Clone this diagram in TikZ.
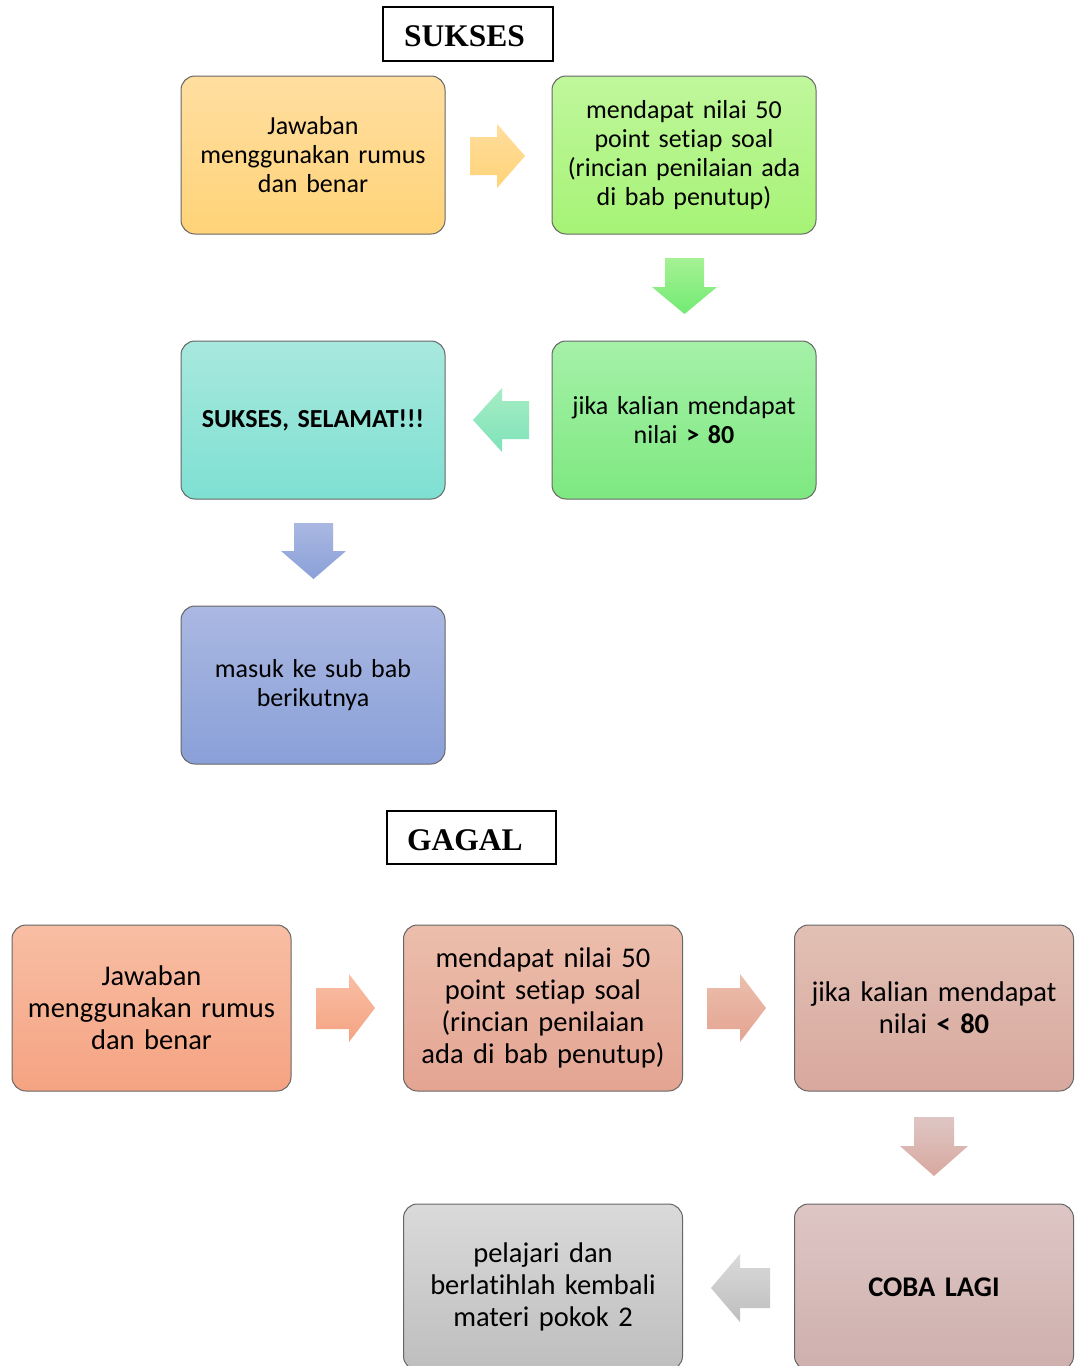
\documentclass[tikz,border=0pt]{standalone}
\usepackage{fontspec}
\setmainfont{Carlito}[Ligatures={NoCommon,NoContextual}]
\newfontfamily\titlefont{Liberation Serif}
\begin{document}
\begin{tikzpicture}[x=1pt,y=-1pt,
  flowbox/.style={rounded corners=14pt, draw=black!60, line width=1pt,
    minimum width=264pt, minimum height=158pt, inner sep=0pt, align=center,
    text width=255pt, font=\fontsize{26}{29}\selectfont},
  flowboxb/.style={flowbox, minimum width=279pt, minimum height=166pt,
    text width=272pt, font=\fontsize{28.5}{32}\selectfont},
  titlebox/.style={draw=black, line width=1.3pt, inner sep=0pt, fill=white},
  titletext/.style={font=\titlefont\bfseries\fontsize{31.5}{36}\selectfont, anchor=west, inner sep=0pt}
]
\clip (0,0) rectangle (1083,1366);
\fill[white] (0,0) rectangle (1083,1366);

% ---------- SUKSES ----------
\node[titlebox, minimum width=170pt, minimum height=54pt] (t1) at (468,34) {};
\node[titletext] (t1t) at (404,36) {SUKSES};

\definecolor{aT}{RGB}{255,222,160}\definecolor{aB}{RGB}{255,211,120}
\definecolor{bT}{RGB}{192,247,156}\definecolor{bB}{RGB}{166,243,118}
\definecolor{cT}{RGB}{165,241,168}\definecolor{cB}{RGB}{126,232,128}
\definecolor{dT}{RGB}{168,232,222}\definecolor{dB}{RGB}{126,224,210}
\definecolor{eT}{RGB}{170,184,226}\definecolor{eB}{RGB}{138,160,216}

\node[flowbox, top color=aT, bottom color=aB] (A) at (313,155) {Jawaban\\menggunakan rumus\\dan benar};
\node[flowbox, top color=bT, bottom color=bB] (B) at (684,155) {mendapat nilai 50\\point setiap soal\\(rincian penilaian ada\\di bab penutup)};
\node[flowbox, top color=cT, bottom color=cB] (C) at (684,420) {jika kalian mendapat\\nilai \textbf{> 80}};
\node[flowbox, top color=dT, bottom color=dB] (D) at (313,420) {\textbf{SUKSES, SELAMAT!!!}};
\node[flowbox, top color=eT, bottom color=eB] (E) at (313,685) {masuk ke sub bab\\berikutnya};

% arrows (block arrows)
\shade[top color=aT!90!aB, bottom color=aB] (470,137)--(497,137)--(497,124)--(525,156)--(497,188)--(497,175)--(470,175)--cycle;
\shade[top color=cT!60!bB, bottom color=cB!90!green] (665,258)--(704,258)--(704,287)--(717,287)--(684.5,314)--(652,287)--(665,287)--cycle;
\shade[top color=dT!50!cT, bottom color=dB!70!cB] (529,401)--(502,401)--(502,388)--(473,420)--(502,452)--(502,439)--(529,439)--cycle;
\shade[top color=eT, bottom color=eB] (294,523)--(333,523)--(333,551)--(346,551)--(313.5,579)--(281,551)--(294,551)--cycle;

% ---------- GAGAL ----------
\node[titlebox, minimum width=169pt, minimum height=53pt] (t2) at (471.5,837.5) {};
\node[titletext] (t2t) at (407,840) {GAGAL};

\definecolor{fT}{RGB}{248,190,164}\definecolor{fB}{RGB}{245,163,130}
\definecolor{gT}{RGB}{236,190,172}\definecolor{gB}{RGB}{228,164,146}
\definecolor{hT}{RGB}{226,192,180}\definecolor{hB}{RGB}{216,168,158}
\definecolor{iT}{RGB}{222,198,196}\definecolor{iB}{RGB}{206,176,174}
\definecolor{jT}{RGB}{218,218,218}\definecolor{jB}{RGB}{190,190,190}

\node[flowboxb, top color=fT, bottom color=fB] (F) at (151.5,1008) {Jawaban\\menggunakan rumus\\dan benar};
\node[flowboxb, top color=gT, bottom color=gB] (G) at (543,1008) {mendapat nilai 50\\point setiap soal\\(rincian penilaian\\ada di bab penutup)};
\node[flowboxb, top color=hT, bottom color=hB] (H) at (934,1008) {jika kalian mendapat\\nilai \textbf{< 80}};
\node[flowboxb, top color=iT, bottom color=iB] (I) at (934,1287) {\textbf{COBA LAGI}};
\node[flowboxb, top color=jT, bottom color=jB] (J) at (543,1287) {pelajari dan\\berlatihlah kembali\\materi pokok 2};

\shade[top color=fT, bottom color=fB] (316,988)--(349,988)--(349,974)--(375,1008)--(349,1042)--(349,1029)--(316,1029)--cycle;
\shade[top color=gT, bottom color=gB] (707,988)--(740,988)--(740,974)--(766,1008)--(740,1042)--(740,1029)--(707,1029)--cycle;
\shade[top color=iT, bottom color=hB] (914,1117)--(954,1117)--(954,1146)--(968,1146)--(934,1176)--(900,1146)--(914,1146)--cycle;
\shade[top color=jT, bottom color=jB] (770,1268)--(740,1268)--(740,1254)--(711,1288)--(740,1322)--(740,1308)--(770,1308)--cycle;
\end{tikzpicture}
\end{document}
